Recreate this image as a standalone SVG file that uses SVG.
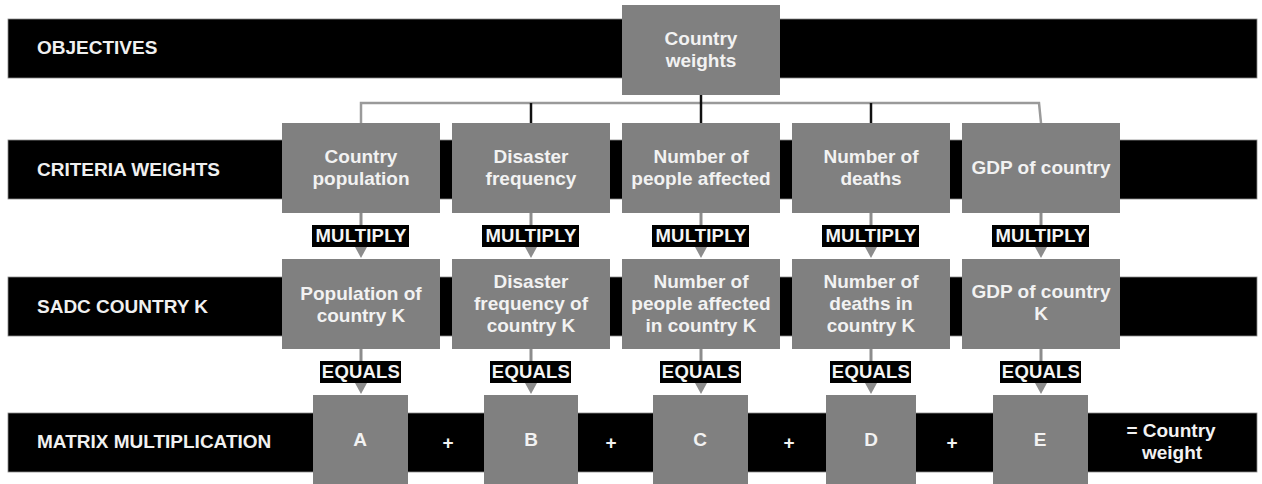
<svg xmlns="http://www.w3.org/2000/svg" width="1262" height="484" viewBox="0 0 1262 484">
<style>
.band{fill:#000;stroke:#8a8a8a;stroke-width:0.8}
.rowlbl{font-family:"Liberation Sans",Arial,sans-serif;font-weight:bold;font-size:19px;fill:#f0f0f0}
.box{fill:#808080}
.bt{font-family:"Liberation Sans",Arial,sans-serif;font-weight:bold;font-size:19px;fill:#f2f2f2;text-anchor:middle}
.tag{fill:#000}
.tt{font-family:"Liberation Sans",Arial,sans-serif;font-weight:bold;font-size:18.5px;letter-spacing:0.2px;fill:#f4f4f4;text-anchor:middle}
.stem{stroke:#8c8c8c;stroke-width:3;fill:none}
.tri{fill:#8c8c8c}
.tree{stroke:#9a9a9a;stroke-width:2.5;fill:none}
.blk{stroke:#111;stroke-width:2.5;fill:none}
</style>
<rect width="1262" height="484" fill="#fff"/>
<g id="bands">
<rect class="band" x="8" y="19" width="1249" height="59"/>
<rect class="band" x="8" y="140" width="1249" height="59"/>
<rect class="band" x="8" y="277" width="1249" height="59"/>
<rect class="band" x="8" y="413" width="1249" height="59"/>
<text class="rowlbl" x="37" y="54">OBJECTIVES</text>
<text class="rowlbl" x="37" y="176">CRITERIA WEIGHTS</text>
<text class="rowlbl" x="37" y="313">SADC COUNTRY K</text>
<text class="rowlbl" x="37" y="448">MATRIX MULTIPLICATION</text>
</g>
<g id="connectors">
<polyline class="tree" points="361,123 361,103 1039,103 1041,123"/>
<line class="blk" x1="531" y1="103" x2="531" y2="123"/>
<line class="blk" x1="701" y1="95" x2="701" y2="123"/>
<line class="blk" x1="871" y1="103" x2="871" y2="123"/>
<g id="mult-arrows">
<line class="stem" x1="361" y1="213" x2="361" y2="226"/><polygon class="tri" points="355,247 367,247 361,258"/>
<line class="stem" x1="531" y1="213" x2="531" y2="226"/><polygon class="tri" points="525,247 537,247 531,258"/>
<line class="stem" x1="701" y1="213" x2="701" y2="226"/><polygon class="tri" points="695,247 707,247 701,258"/>
<line class="stem" x1="871" y1="213" x2="871" y2="226"/><polygon class="tri" points="865,247 877,247 871,258"/>
<line class="stem" x1="1041" y1="213" x2="1041" y2="226"/><polygon class="tri" points="1035,247 1047,247 1041,258"/>
</g>
<g id="eq-arrows">
<line class="stem" x1="361" y1="349" x2="361" y2="362"/><polygon class="tri" points="355,383 367,383 361,394"/>
<line class="stem" x1="531" y1="349" x2="531" y2="362"/><polygon class="tri" points="525,383 537,383 531,394"/>
<line class="stem" x1="701" y1="349" x2="701" y2="362"/><polygon class="tri" points="695,383 707,383 701,394"/>
<line class="stem" x1="871" y1="349" x2="871" y2="362"/><polygon class="tri" points="865,383 877,383 871,394"/>
<line class="stem" x1="1041" y1="349" x2="1041" y2="362"/><polygon class="tri" points="1035,383 1047,383 1041,394"/>
</g>
<g id="mult-labels">
<rect class="tag" x="312" y="225" width="97" height="22"/><text class="tt" x="361" y="242">MULTIPLY</text>
<rect class="tag" x="482" y="225" width="97" height="22"/><text class="tt" x="531" y="242">MULTIPLY</text>
<rect class="tag" x="652" y="225" width="97" height="22"/><text class="tt" x="701" y="242">MULTIPLY</text>
<rect class="tag" x="822" y="225" width="97" height="22"/><text class="tt" x="871" y="242">MULTIPLY</text>
<rect class="tag" x="992" y="225" width="97" height="22"/><text class="tt" x="1041" y="242">MULTIPLY</text>
</g>
<g id="eq-labels">
<rect class="tag" x="320" y="361" width="81" height="22"/><text class="tt" x="361" y="378">EQUALS</text>
<rect class="tag" x="490" y="361" width="81" height="22"/><text class="tt" x="531" y="378">EQUALS</text>
<rect class="tag" x="660" y="361" width="81" height="22"/><text class="tt" x="701" y="378">EQUALS</text>
<rect class="tag" x="830" y="361" width="81" height="22"/><text class="tt" x="871" y="378">EQUALS</text>
<rect class="tag" x="1000" y="361" width="81" height="22"/><text class="tt" x="1041" y="378">EQUALS</text>
</g>
</g>
<g id="country-weights"><rect class="box" x="622" y="5" width="158" height="90"/><text class="bt" x="701" y="45">Country</text><text class="bt" x="701" y="67">weights</text></g>
<g id="c-pop"><rect class="box" x="282" y="123" width="158" height="90"/><text class="bt" x="361" y="163">Country</text><text class="bt" x="361" y="185">population</text></g>
<g id="c-freq"><rect class="box" x="452" y="123" width="158" height="90"/><text class="bt" x="531" y="163">Disaster</text><text class="bt" x="531" y="185">frequency</text></g>
<g id="c-aff"><rect class="box" x="622" y="123" width="158" height="90"/><text class="bt" x="701" y="163">Number of</text><text class="bt" x="701" y="185">people affected</text></g>
<g id="c-deaths"><rect class="box" x="792" y="123" width="158" height="90"/><text class="bt" x="871" y="163">Number of</text><text class="bt" x="871" y="185">deaths</text></g>
<g id="c-gdp"><rect class="box" x="962" y="123" width="158" height="90"/><text class="bt" x="1041" y="174">GDP of country</text></g>
<g id="k-pop"><rect class="box" x="282" y="259" width="158" height="90"/><text class="bt" x="361" y="300">Population of</text><text class="bt" x="361" y="322">country K</text></g>
<g id="k-freq"><rect class="box" x="452" y="259" width="158" height="90"/><text class="bt" x="531" y="288">Disaster</text><text class="bt" x="531" y="310">frequency of</text><text class="bt" x="531" y="332">country K</text></g>
<g id="k-aff"><rect class="box" x="622" y="259" width="158" height="90"/><text class="bt" x="701" y="288">Number of</text><text class="bt" x="701" y="310">people affected</text><text class="bt" x="701" y="332">in country K</text></g>
<g id="k-deaths"><rect class="box" x="792" y="259" width="158" height="90"/><text class="bt" x="871" y="288">Number of</text><text class="bt" x="871" y="310">deaths in</text><text class="bt" x="871" y="332">country K</text></g>
<g id="k-gdp"><rect class="box" x="962" y="259" width="158" height="90"/><text class="bt" x="1041" y="298">GDP of country</text><text class="bt" x="1041" y="320">K</text></g>
<g id="m-a"><rect class="box" x="313" y="395" width="95" height="95"/><text class="bt" x="360" y="446">A</text></g>
<g id="m-b"><rect class="box" x="484" y="395" width="94" height="95"/><text class="bt" x="531" y="446">B</text></g>
<g id="m-c"><rect class="box" x="653" y="395" width="95" height="95"/><text class="bt" x="700" y="446">C</text></g>
<g id="m-d"><rect class="box" x="826" y="395" width="90" height="95"/><text class="bt" x="871" y="446">D</text></g>
<g id="m-e"><rect class="box" x="993" y="395" width="95" height="95"/><text class="bt" x="1040" y="446">E</text></g>
<g id="plus-signs">
<text class="bt" x="448" y="449">+</text>
<text class="bt" x="611" y="449">+</text>
<text class="bt" x="789" y="449">+</text>
<text class="bt" x="952" y="449">+</text>
</g>
<g id="result"><text class="bt" x="1171" y="437">= Country</text><text class="bt" x="1172" y="459">weight</text></g>
</svg>
